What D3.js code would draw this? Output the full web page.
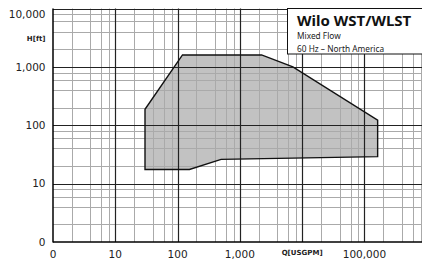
<!DOCTYPE html>
<html>
<head>
<meta charset="utf-8">
<script src="https://cdn.jsdelivr.net/npm/d3@7"></script>
<style>
  html, body { margin: 0; padding: 0; background: #fff; }
  svg { display: block; }
</style>
</head>
<body>
<div id="chart"></div>
<script>
// Wilo WST/WLST performance envelope, log-log

// envelope outline, clockwise from lower left
const envelopeQ = [30, 30, 120, 2230, 7100, 163000, 163000, 500, 155];
const envelopeH = [17.5, 188, 1600, 1600, 1000, 122, 29, 26, 17.5];

const xMajor = [1, 10, 100, 1000, 10000, 100000];
const xLabels = ["0", "10", "100", "1,000", "Q[USGPM]", "100,000"];
const yMajor = [1, 10, 100, 1000, 10000];
const yLabels = ["0", "10", "100", "1,000", "10,000"];
const minorSteps = [2, 4, 6, 8];

const titleLines = ["Wilo WST/WLST", "Mixed Flow", "60 Hz \u2013 North America"];
const yTitle = "H[ft]";

const W = 422, H = 263;
const m = {left: 53, bottom: 242, top: 8.5, right: 422};

const svg = d3.select("#chart").append("svg")
  .attr("width", W).attr("height", H);

const x = d3.scaleLog().domain([1, 840000]).range([m.left, m.right]);
const y = d3.scaleLog().domain([1, 10000]).range([m.bottom, m.top]);

// minor grid values
function minors(majors, max){
  const out = [];
  majors.forEach(v => minorSteps.forEach(s => { if(v * s <= max) out.push(v * s); }));
  return out;
}
const xMinor = minors(xMajor.concat([1000000]), x.domain()[1]);
const yMinor = minors(yMajor, y.domain()[1]);

// envelope fill first, grid over it
const pts = envelopeQ.map((q, i) => [x(q), y(envelopeH[i])]);
const line = d3.line().curve(d3.curveLinearClosed);
svg.append("path").attr("d", line(pts)).attr("fill", "#c2c2c2").attr("stroke", "none");

const grid = svg.append("g");
grid.selectAll(".vmin").data(xMinor).join("line")
  .attr("x1", d => Math.round(x(d)) + 0.5).attr("x2", d => Math.round(x(d)) + 0.5)
  .attr("y1", m.top).attr("y2", m.bottom)
  .attr("stroke", "#aaa").attr("stroke-width", 1);
grid.selectAll(".hmin").data(yMinor).join("line")
  .attr("y1", d => Math.round(y(d)) + 0.5).attr("y2", d => Math.round(y(d)) + 0.5)
  .attr("x1", m.left).attr("x2", m.right)
  .attr("stroke", "#aaa").attr("stroke-width", 1);
grid.selectAll(".vmaj").data(xMajor.slice(1)).join("line")
  .attr("x1", d => Math.round(x(d)) + 0.5).attr("x2", d => Math.round(x(d)) + 0.5)
  .attr("y1", m.top).attr("y2", m.bottom)
  .attr("stroke", "#222").attr("stroke-width", 1.2);
grid.selectAll(".hmaj").data(yMajor.slice(1)).join("line")
  .attr("y1", d => Math.round(y(d)) + 0.5).attr("y2", d => Math.round(y(d)) + 0.5)
  .attr("x1", m.left).attr("x2", m.right)
  .attr("stroke", "#222").attr("stroke-width", 1.2);

// axis lines
svg.append("line").attr("x1", m.left).attr("x2", m.left).attr("y1", m.top).attr("y2", m.bottom + 0.5)
  .attr("stroke", "#000").attr("stroke-width", 1.5);
svg.append("line").attr("x1", m.left).attr("x2", m.right).attr("y1", m.bottom).attr("y2", m.bottom)
  .attr("stroke", "#000").attr("stroke-width", 1.5);

// envelope outline
svg.append("path").attr("d", line(pts)).attr("fill", "none")
  .attr("stroke", "#111").attr("stroke-width", 1.4).attr("stroke-linejoin", "miter");

// tick labels
const lab = svg.append("g").attr("font-family", "DejaVu Sans, sans-serif").attr("fill", "#222");
lab.selectAll(".yl").data(yMajor).join("text")
  .attr("x", 45.5).attr("y", d => Math.max(y(d), 14))
  .attr("dy", "0.35em").attr("text-anchor", "end").attr("font-size", 10.5)
  .text((d, i) => yLabels[i]);
lab.selectAll(".xl").data(xMajor).join("text")
  .attr("x", d => x(d)).attr("y", 254)
  .attr("text-anchor", "middle")
  .attr("font-size", (d, i) => xLabels[i] === "Q[USGPM]" ? 7 : 10.5)
  .attr("font-weight", (d, i) => xLabels[i] === "Q[USGPM]" ? "bold" : "normal")
  .attr("dy", (d, i) => xLabels[i] === "Q[USGPM]" ? "0.1em" : "0.35em")
  .text((d, i) => xLabels[i]);
lab.append("text").attr("x", 45.5).attr("y", 38.5).attr("dy", "0.35em")
  .attr("text-anchor", "end").attr("font-size", 7).attr("font-weight", "bold")
  .text(yTitle);

// title box
const box = svg.append("g");
box.append("rect").attr("x", 287.5).attr("y", 8.5).attr("width", 140).attr("height", 45.5)
  .attr("fill", "#fff").attr("stroke", "#111").attr("stroke-width", 1);
box.append("text").attr("x", 297).attr("y", 26)
  .attr("font-family", "Noto Sans, sans-serif").attr("font-weight", "bold").attr("font-size", 15)
  .attr("fill", "#111").text(titleLines[0]);
box.append("text").attr("x", 297).attr("y", 39)
  .attr("font-family", "Noto Sans, sans-serif").attr("font-size", 8.3)
  .attr("fill", "#222").text(titleLines[1]);
box.append("text").attr("x", 297).attr("y", 51.5)
  .attr("font-family", "Noto Sans, sans-serif").attr("font-size", 8.3)
  .attr("fill", "#222").text(titleLines[2]);
</script>
</body>
</html>
